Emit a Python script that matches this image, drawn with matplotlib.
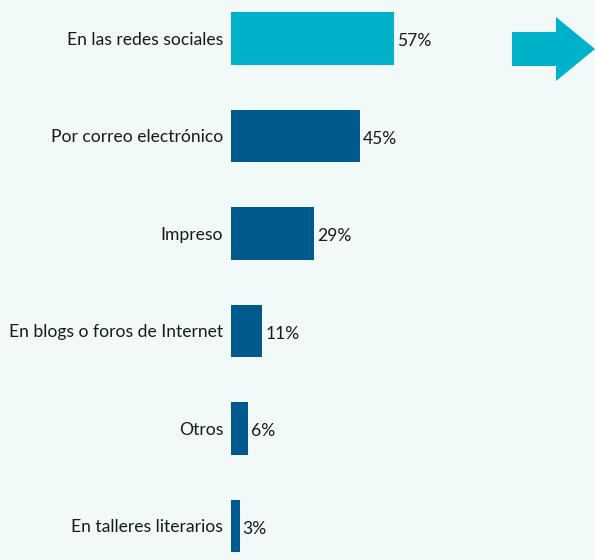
import matplotlib
matplotlib.use("Agg")
import matplotlib.pyplot as plt
from matplotlib.patches import Polygon
from matplotlib import font_manager

categories = ["En las redes sociales", "Por correo electrónico", "Impreso",
              "En blogs o foros de Internet", "Otros", "En talleres literarios"]
values = [57, 45, 29, 11, 6, 3]
value_labels = ["57%", "45%", "29%", "11%", "6%", "3%"]

names = {f.name for f in font_manager.fontManager.ttflist}
fam = "Liberation Sans Narrow" if "Liberation Sans Narrow" in names else "Lato"
plt.rcParams['font.family'] = [fam, 'DejaVu Sans']

bg = "#f2f9f9"
light = "#00b2c9"
dark = "#005a8e"
colors = [light] + [dark] * 5
fs = 12.6

W, H = 595, 560
fig = plt.figure(figsize=(W / 100, H / 100), dpi=100, facecolor=bg)
ax = fig.add_axes([231 / W, 0, 1 - 231 / W, 1])
ax.set_facecolor(bg)

ypos = list(range(len(categories)))
ax.barh(ypos, values, height=0.535, color=colors)
ax.set_xlim(0, (W - 231) / 2.86)
ax.set_ylim((H - 38.5) / 97.5, -38.5 / 97.5)
ax.set_yticks(ypos)
ax.set_yticklabels(categories, fontsize=fs, color="#1a1a1a")
ax.tick_params(axis='y', length=0, pad=5.5)
ax.set_xticks([])
for s in ax.spines.values():
    s.set_visible(False)

for y, v, lab in zip(ypos, values, value_labels):
    ax.annotate(lab, (v, y), xytext=(2, -2), textcoords="offset points",
                va="center", ha="left", fontsize=fs, color="#1a1a1a")

# decorative arrow (figure pixel coords, y from top)
pts = [(512, 32), (556, 32), (556, 17), (595, 49), (556, 81), (556, 66), (512, 66)]
arrow = Polygon([(x / W, 1 - y / H) for x, y in pts], closed=True,
                transform=fig.transFigure, facecolor=light, edgecolor="none")
fig.patches.append(arrow)

fig.savefig("out.png", dpi=100, facecolor=bg)
